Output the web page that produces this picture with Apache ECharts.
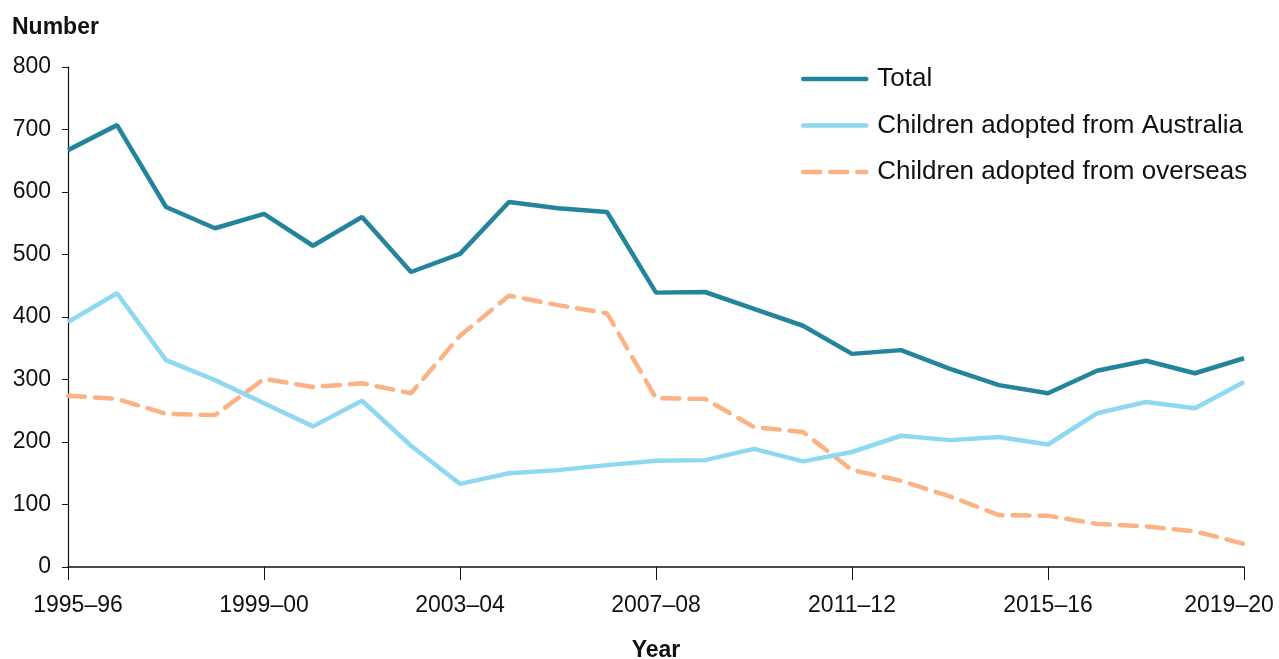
<!DOCTYPE html>
<html>
<head>
<meta charset="utf-8">
<script src="https://cdn.jsdelivr.net/npm/echarts@6/dist/echarts.min.js"></script>
<style>
html,body{margin:0;padding:0;background:#fff;}
#c{width:1279px;height:659px;}
</style>
</head>
<body>
<div id="c"></div>
<script>
var categories = ['1995–96','1996–97','1997–98','1998–99','1999–00','2000–01','2001–02','2002–03','2003–04','2004–05','2005–06','2006–07','2007–08','2008–09','2009–10','2010–11','2011–12','2012–13','2013–14','2014–15','2015–16','2016–17','2017–18','2018–19','2019–20'];
var total = [667,707,576,542,565,514,560,472,501,584,574,568,439,440,413,386,341,347,317,291,278,314,330,310,334];
var australia = [392,438,331,299,262,225,266,194,133,150,155,163,170,171,189,169,184,210,203,208,196,246,264,254,296];
var overseas = [274,269,245,243,301,288,294,278,370,434,419,406,270,269,224,216,155,138,113,83,82,69,65,57,37];
var yTicks = [0,100,200,300,400,500,600,700,800];

var FONT = "'Liberation Sans', Arial, sans-serif";
var chart = echarts.init(document.getElementById('c'));
var lastIdx = categories.length - 1;
chart.setOption({
  animation: false,
  textStyle: {fontFamily: FONT},
  grid: {left: 68, right: 35, top: 67, bottom: 92, containLabel: false, outerBoundsMode: 'none'},
  legend: {
    orient: 'vertical', left: 796, top: 61,
    itemWidth: 63, itemHeight: 26, itemGap: 20.5,
    itemStyle: {opacity: 0},
    lineStyle: {width: 4.5, cap: 'round'},
    textStyle: {fontSize: 26, color: '#111', fontFamily: FONT, padding: [0,0,0,6]},
    data: ['Total','Children adopted from Australia','Children adopted from overseas']
  },
  xAxis: {
    type: 'category', data: categories, boundaryGap: false,
    name: 'Year', nameLocation: 'middle', nameGap: 72,
    nameTextStyle: {fontSize: 23, fontWeight: 'bold', color: '#111', fontFamily: FONT},
    axisLine: {lineStyle: {color: '#111', width: 1.5}},
    axisTick: {interval: 3, length: 13, lineStyle: {color: '#111'}},
    axisLabel: {
      interval: 3, fontSize: 23, color: '#111', margin: 27, fontFamily: FONT,
      formatter: function(v, i){
        if (i === 0) return '{f|' + v + '}';
        if (i === lastIdx) return '{l|' + v + '}';
        return v;
      },
      rich: {
        f: {fontSize: 23, color: '#111', fontFamily: FONT, padding: [0,0,0,20]},
        l: {fontSize: 23, color: '#111', fontFamily: FONT, padding: [0,30,0,0]}
      }
    },
    splitLine: {show: false}
  },
  yAxis: {
    type: 'value', min: yTicks[0], max: yTicks[yTicks.length-1], interval: 100,
    name: 'Number', nameLocation: 'end', nameGap: 0,
    nameTextStyle: {fontSize: 23, fontWeight: 'bold', color: '#111', fontFamily: FONT, align: 'left', padding: [0,0,28,-56]},
    axisLine: {show: true, lineStyle: {color: '#111', width: 1.2}},
    axisTick: {show: true, length: 6, lineStyle: {color: '#111'}},
    axisLabel: {fontSize: 23, color: '#111', margin: 17, fontFamily: FONT},
    splitLine: {show: false}
  },
  series: [
    {name: 'Total', type: 'line', data: total, symbol: 'none', z: 3,
     lineStyle: {color: '#23849b', width: 4.5}, itemStyle: {color: '#23849b'}},
    {name: 'Children adopted from Australia', type: 'line', data: australia, symbol: 'none', z: 2,
     lineStyle: {color: '#8fd8f2', width: 4.5}, itemStyle: {color: '#8fd8f2'}},
    {name: 'Children adopted from overseas', type: 'line', data: overseas, symbol: 'none', z: 1,
     lineStyle: {color: '#fbb285', width: 4.5, type: [17, 10], cap: 'round'}, itemStyle: {color: '#fbb285'}}
  ]
});
</script>
</body>
</html>
